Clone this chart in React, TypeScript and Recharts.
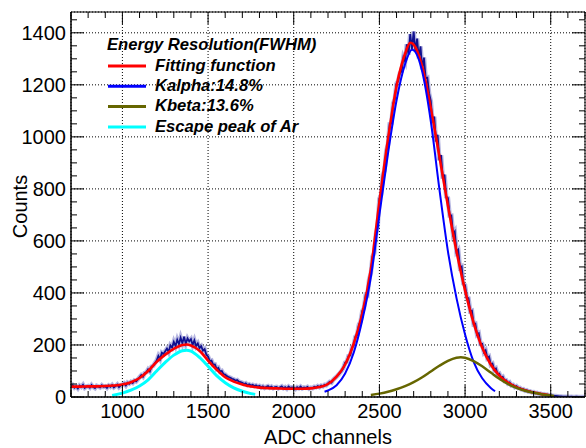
import React from 'react';
import { LineChart, Line, XAxis, YAxis, CartesianGrid, Label } from 'recharts';

// ---------- data ----------
const histStart = 700;
const histStep = 10;
const histCounts = [
  38, 45, 36, 41, 33, 44, 39, 47, 35, 40,
  42, 36, 46, 38, 34, 43, 40, 37, 45, 39,
  41, 35, 44, 39, 46, 37, 42, 48, 38, 45,
  47, 52, 44, 55, 51, 58, 54, 63, 60, 68,
  76, 84, 78, 92, 95, 106, 98, 117, 120, 131,
  140, 158, 146, 170, 165, 176, 186, 173, 198, 190,
  212, 196, 220, 203, 228, 207, 232, 205, 225, 214,
  222, 200, 218, 196, 206, 188, 195, 178, 184, 162,
  156, 138, 140, 124, 125, 108, 112, 97, 100, 88,
  86, 80, 77, 74, 70, 68, 63, 65, 59, 57,
  55, 50, 53, 46, 49, 44, 47, 42, 45, 40,
  43, 37, 41, 35, 39, 42, 36, 40, 34, 38,
  39, 33, 37, 41, 34, 38, 32, 40, 35, 37,
  36, 31, 38, 34, 40, 33, 37, 35, 39, 32,
  36, 34, 39, 37, 42, 38, 44, 41, 47, 45,
  52, 58, 55, 66, 72, 78, 85, 93, 101, 112,
  132, 135, 158, 160, 190, 198, 232, 238, 278, 290,
  330, 342, 392, 390, 452, 475, 540, 552, 628, 655,
  762, 778, 855, 870, 946, 972, 1050, 1052, 1128, 1145,
  1205, 1215, 1245, 1252, 1305, 1290, 1356, 1316, 1395, 1338,
  1405, 1328, 1378, 1302, 1348, 1260, 1305, 1226, 1228, 1168,
  1138, 1056, 1078, 982, 1008, 910, 930, 840, 855, 770,
  765, 698, 698, 625, 636, 558, 566, 498, 502, 436,
  430, 382, 380, 330, 332, 280, 282, 240, 245, 204,
  204, 172, 180, 150, 155, 124, 128, 105, 110, 88,
  90, 74, 78, 62, 64, 52, 56, 45, 47, 38,
  42, 34, 35, 29, 30, 24, 26, 21, 22, 18,
  19, 14, 16, 12, 13, 10, 11, 8, 9, 6,
  6, 5, 4, 4, 3, 2, 2, 1, 1, 1,
  1, 0, 1, 0, 0, 1, 0, 0, 0, 0,
  0,
];

const fitX = [700, 750, 800, 850, 900, 950, 1000, 1050, 1100, 1150, 1200, 1250, 1300, 1350, 1375, 1400, 1450, 1500, 1550, 1600, 1650, 1700, 1750, 1800, 1850, 1900, 1950, 2000, 2050, 2100, 2150, 2200, 2250, 2300, 2350, 2400, 2450, 2500, 2550, 2600, 2650, 2680, 2700, 2750, 2800, 2850, 2900, 2950, 3000, 3050, 3100, 3150, 3200, 3250, 3300, 3350, 3400, 3450, 3500];
const fitY = [40, 40, 41, 41, 42, 44, 48, 57, 73, 100, 135, 163, 185, 200, 202, 198, 178, 140, 105, 76, 59, 48, 40, 36, 34, 33, 32, 32, 32, 33, 38, 50, 78, 125, 205, 320, 490, 750, 990, 1195, 1320, 1362, 1355, 1270, 1110, 925, 735, 560, 410, 285, 190, 125, 82, 55, 38, 26, 17, 11, 6];

const kalphaX = [2180, 2200, 2250, 2300, 2350, 2400, 2450, 2500, 2550, 2600, 2650, 2690, 2700, 2750, 2800, 2850, 2900, 2950, 3000, 3050, 3100, 3150, 3175];
const kalphaY = [20, 25, 45, 90, 170, 295, 460, 700, 935, 1140, 1280, 1335, 1333, 1250, 1060, 800, 560, 380, 240, 135, 72, 35, 22];

const kbetaX = [2450, 2500, 2550, 2600, 2650, 2700, 2750, 2800, 2850, 2900, 2950, 2975, 3000, 3050, 3100, 3150, 3200, 3250, 3300, 3350, 3400, 3450, 3500, 3520];
const kbetaY = [8, 13, 20, 30, 42, 57, 76, 98, 120, 139, 151, 153, 151, 138, 118, 94, 70, 50, 35, 24, 16, 10, 6, 4];

const escapeX = [940, 1000, 1050, 1100, 1150, 1200, 1250, 1300, 1350, 1375, 1400, 1450, 1500, 1550, 1600, 1650, 1700, 1750, 1775];
const escapeY = [6, 15, 26, 42, 66, 100, 133, 161, 178, 180, 176, 152, 118, 82, 55, 35, 22, 13, 10];

const xDomain = [700, 3700];
const yDomain = [0, 1480];
const xMajorTicks = [1000, 1500, 2000, 2500, 3000, 3500];
const xAllTicks = [700, 800, 900, 1000, 1100, 1200, 1300, 1400, 1500, 1600, 1700, 1800, 1900, 2000, 2100, 2200, 2300, 2400, 2500, 2600, 2700, 2800, 2900, 3000, 3100, 3200, 3300, 3400, 3500, 3600, 3700];
const yMajorTicks = [0, 200, 400, 600, 800, 1000, 1200, 1400];
const yAllTicks = [0, 50, 100, 150, 200, 250, 300, 350, 400, 450, 500, 550, 600, 650, 700, 750, 800, 850, 900, 950, 1000, 1050, 1100, 1150, 1200, 1250, 1300, 1350, 1400, 1450];

const legendTitle = 'Energy Resolution(FWHM)';
const legendNames = ['Fitting function', 'Kalpha:14.8%', 'Kbeta:13.6%', 'Escape peak of Ar'];
const legendColors = ['#ff0000', '#0000ff', '#666600', '#00ffff'];

const xTitle = 'ADC channels';
const yTitle = 'Counts';

// ---------- tables ----------
const histData = histCounts.map((v, i) => ({ x: histStart + i * histStep, v }));
const zip = (xs: number[], ys: number[]) => xs.map((x, i) => ({ x, v: ys[i] }));
const fitData = zip(fitX, fitY);
const kalphaData = zip(kalphaX, kalphaY);
const kbetaData = zip(kbetaX, kbetaY);
const escapeData = zip(escapeX, escapeY);

const FONT = '"Liberation Sans", Arial, Helvetica, sans-serif';
const isXMajor = (v: number) => xMajorTicks.includes(v);
const isYMajor = (v: number) => yMajorTicks.includes(v);

const BottomTick = (p: any) => {
  const { x, y, payload } = p;
  const major = isXMajor(payload.value);
  return (
    <g>
      <line x1={x} x2={x} y1={y} y2={y - (major ? 12 : 6)} stroke="#000" strokeWidth={1} />
      {major && (
        <text x={x} y={y + 21} textAnchor="middle" fontSize={20} fill="#000" fontFamily={FONT}>
          {payload.value}
        </text>
      )}
    </g>
  );
};

const TopTick = (p: any) => {
  const { x, y, payload } = p;
  const major = isXMajor(payload.value);
  return <line x1={x} x2={x} y1={y} y2={y + (major ? 12 : 6)} stroke="#000" strokeWidth={1} />;
};

const LeftTick = (p: any) => {
  const { x, y, payload } = p;
  const major = isYMajor(payload.value);
  return (
    <g>
      <line x1={x} x2={x + (major ? 13 : 6)} y1={y} y2={y} stroke="#000" strokeWidth={1} />
      {major && (
        <text x={x - 5} y={y} dy="0.36em" textAnchor="end" fontSize={20} fill="#000" fontFamily={FONT}>
          {payload.value}
        </text>
      )}
    </g>
  );
};

const RightTick = (p: any) => {
  const { x, y, payload } = p;
  const major = isYMajor(payload.value);
  return <line x1={x} x2={x - (major ? 13 : 6)} y1={y} y2={y} stroke="#000" strokeWidth={1} />;
};

const XTitle = (p: any) => {
  const vb = p.viewBox || {};
  return (
    <text x={vb.x + vb.width / 2} y={vb.y + vb.height - 4} textAnchor="middle" fontSize={20} fill="#000" fontFamily={FONT}>
      {xTitle}
    </text>
  );
};

const YTitle = (p: any) => {
  const vb = p.viewBox || {};
  const cx = vb.x + 26.5;
  const cy = vb.y + vb.height / 2 + 2;
  return (
    <text x={cx} y={cy} transform={`rotate(-90 ${cx} ${cy})`} textAnchor="middle" fontSize={20} fill="#000" fontFamily={FONT}>
      {yTitle}
    </text>
  );
};

export default function App() {
  return (
    <div style={{ position: 'absolute', left: 0, top: 0, width: 586, height: 448, background: '#fff' }}>
      <LineChart width={586} height={448} margin={{ top: 11, right: 0, bottom: 0, left: 0 }} style={{ fontFamily: FONT }}>
        <XAxis xAxisId="grid" hide type="number" dataKey="x" domain={xDomain} ticks={xMajorTicks} allowDataOverflow />
        <YAxis yAxisId="grid" hide type="number" domain={yDomain} ticks={yMajorTicks} allowDataOverflow />
        <CartesianGrid xAxisId="grid" yAxisId="grid" stroke="#000" strokeDasharray="1 2" strokeWidth={1} />

        <XAxis
          type="number"
          dataKey="x"
          domain={xDomain}
          ticks={xAllTicks}
          interval={0}
          height={51}
          tickSize={0}
          tickMargin={0}
          tickLine={false}
          tick={<BottomTick />}
          axisLine={{ stroke: '#000', strokeWidth: 1.5 }}
          allowDataOverflow
        >
          <Label content={<XTitle />} />
        </XAxis>
        <XAxis
          xAxisId="top"
          orientation="top"
          type="number"
          dataKey="x"
          domain={xDomain}
          ticks={xAllTicks}
          interval={0}
          height={1}
          tickSize={0}
          tickMargin={0}
          tickLine={false}
          tick={<TopTick />}
          axisLine={{ stroke: '#000' }}
          allowDataOverflow
        />
        <YAxis
          type="number"
          domain={yDomain}
          ticks={yAllTicks}
          interval={0}
          width={71}
          tickSize={0}
          tickMargin={0}
          tickLine={false}
          tick={<LeftTick />}
          axisLine={{ stroke: '#000', strokeWidth: 1.5 }}
          allowDataOverflow
        >
          <Label content={<YTitle />} />
        </YAxis>
        <YAxis
          yAxisId="right"
          orientation="right"
          type="number"
          domain={yDomain}
          ticks={yAllTicks}
          interval={0}
          width={1}
          tickSize={0}
          tickMargin={0}
          tickLine={false}
          tick={<RightTick />}
          axisLine={{ stroke: '#000' }}
          allowDataOverflow
        />

        <Line data={histData} dataKey="v" type="linear" stroke="#7c7cc8" strokeWidth={4.5} strokeOpacity={0.55} dot={false} activeDot={false} isAnimationActive={false} legendType="none" />
        <Line data={histData} dataKey="v" type="linear" stroke="#10108f" strokeWidth={1.8} dot={false} activeDot={false} isAnimationActive={false} legendType="none" />
        <Line data={fitData} dataKey="v" type="monotone" stroke={legendColors[0]} strokeWidth={2.6} dot={false} activeDot={false} isAnimationActive={false} />
        <Line data={kalphaData} dataKey="v" type="monotone" stroke={legendColors[1]} strokeWidth={2} dot={false} activeDot={false} isAnimationActive={false} />
        <Line data={kbetaData} dataKey="v" type="monotone" stroke={legendColors[2]} strokeWidth={2.5} dot={false} activeDot={false} isAnimationActive={false} />
        <Line data={escapeData} dataKey="v" type="monotone" stroke={legendColors[3]} strokeWidth={3} dot={false} activeDot={false} isAnimationActive={false} />
      </LineChart>

      <svg width={586} height={448} style={{ position: 'absolute', left: 0, top: 0, pointerEvents: 'none' }}>
        <text x={107} y={50} fontSize={16.6} fontWeight="bold" fontStyle="italic" fontFamily={FONT} fill="#000">
          {legendTitle}
        </text>
        {legendNames.map((name, i) => (
          <g key={name}>
            <line x1={108} x2={146} y1={66 + i * 20.3} y2={66 + i * 20.3} stroke={legendColors[i]} strokeWidth={3} />
            <text x={155} y={70.7 + i * 20.3} fontSize={16.6} fontWeight="bold" fontStyle="italic" fontFamily={FONT} fill="#000">
              {name}
            </text>
          </g>
        ))}
      </svg>
    </div>
  );
}
